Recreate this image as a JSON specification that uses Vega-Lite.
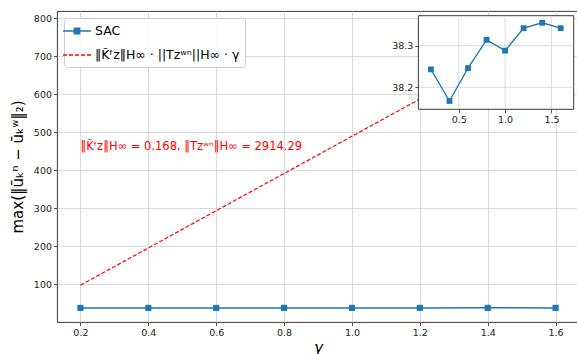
{
  "$schema": "https://vega.github.io/schema/vega-lite/v6.json",
  "width": 522,
  "height": 311,
  "autosize": {"type": "none"},
  "padding": {"left": 57, "top": 11, "right": 0, "bottom": 32},
  "config": {
    "font": "DejaVu Sans",
    "view": {"stroke": "#222", "strokeWidth": 0.9},
    "axis": {"domain": false, "grid": true, "gridColor": "#d6d6d6", "gridWidth": 0.9, "tickColor": "#222", "tickSize": 3.5, "tickWidth": 0.8, "labelFontSize": 9.5, "labelColor": "#222", "labelPadding": 2, "titleFontWeight": "normal", "titleColor": "#000"}
  },
  "datasets": {
    "main": [
      {"gamma": 0.2, "series": "SAC", "value": 38.243},
      {"gamma": 0.4, "series": "SAC", "value": 38.167},
      {"gamma": 0.6, "series": "SAC", "value": 38.246},
      {"gamma": 0.8, "series": "SAC", "value": 38.314},
      {"gamma": 1.0, "series": "SAC", "value": 38.288},
      {"gamma": 1.2, "series": "SAC", "value": 38.342},
      {"gamma": 1.4, "series": "SAC", "value": 38.355},
      {"gamma": 1.6, "series": "SAC", "value": 38.342},
      {"gamma": 0.2, "series": "‖K̃ᶠz‖H∞ · ||Tzʷⁿ||H∞ · γ", "value": 97.9},
      {"gamma": 0.4, "series": "‖K̃ᶠz‖H∞ · ||Tzʷⁿ||H∞ · γ", "value": 195.8},
      {"gamma": 0.6, "series": "‖K̃ᶠz‖H∞ · ||Tzʷⁿ||H∞ · γ", "value": 293.8},
      {"gamma": 0.8, "series": "‖K̃ᶠz‖H∞ · ||Tzʷⁿ||H∞ · γ", "value": 391.7},
      {"gamma": 1.0, "series": "‖K̃ᶠz‖H∞ · ||Tzʷⁿ||H∞ · γ", "value": 489.6},
      {"gamma": 1.2, "series": "‖K̃ᶠz‖H∞ · ||Tzʷⁿ||H∞ · γ", "value": 587.5},
      {"gamma": 1.4, "series": "‖K̃ᶠz‖H∞ · ||Tzʷⁿ||H∞ · γ", "value": 685.4},
      {"gamma": 1.6, "series": "‖K̃ᶠz‖H∞ · ||Tzʷⁿ||H∞ · γ", "value": 783.3}
    ]
  },
  "data": {"name": "main"},
  "layer": [
    {
      "encoding": {
        "x": {"field": "gamma", "type": "quantitative", "scale": {"domain": [0.131, 1.669], "nice": false, "zero": false}, "axis": {"values": [0.2, 0.4, 0.6, 0.8, 1.0, 1.2, 1.4, 1.6], "format": ".1f", "title": "γ", "titleFontStyle": "italic", "titleFontSize": 15, "titlePadding": 3}},
        "y": {"field": "value", "type": "quantitative", "scale": {"domain": [1.2, 819], "nice": false, "zero": false}, "axis": {"values": [100, 200, 300, 400, 500, 600, 700, 800], "title": "max(‖ūₖⁿ − ūₖʷ‖₂)", "titleFontSize": 15, "titlePadding": 8}},
        "color": {
          "field": "series", "type": "nominal",
          "scale": {"domain": ["SAC", "‖K̃ᶠz‖H∞ · ||Tzʷⁿ||H∞ · γ"], "range": ["#1f77b4", "#ff0000"]},
          "legend": {
            "title": null, "orient": "top-left", "offset": 7, "padding": 5,
            "fillColor": "rgba(255,255,255,0.85)", "strokeColor": "#cccccc", "cornerRadius": 3,
            "labelFontSize": 12.5, "labelColor": "#000", "labelOffset": 10, "rowPadding": 9,
            "symbolSize": 196, "symbolStrokeWidth": 1.5, "labelLimit": 300,
            "encode": {
              "symbols": {
                "update": {
                  "shape": {"signal": "datum.value === 'SAC' ? 'M-2,0H2M-0.38,-0.38H0.38V0.38H-0.38Z' : 'M-2,0H2'"},
                  "fill": {"signal": "datum.value === 'SAC' ? '#1f77b4' : 'transparent'"},
                  "stroke": {"signal": "datum.value === 'SAC' ? '#1f77b4' : '#ff0000'"},
                  "strokeDash": {"signal": "datum.value === 'SAC' ? [1, 0] : [4, 2]"},
                  "opacity": {"value": 1}
                }
              }
            }
          }
        }
      },
      "layer": [
        {"transform": [{"filter": "datum.series === 'SAC'"}], "mark": {"type": "line", "strokeWidth": 1.5}},
        {"transform": [{"filter": "datum.series === 'SAC'"}], "mark": {"type": "point", "shape": "square", "filled": true, "size": 38, "opacity": 1}},
        {"transform": [{"filter": "datum.series !== 'SAC'"}], "mark": {"type": "line", "strokeWidth": 1.2, "strokeDash": [4, 2]}},
        {
          "transform": [{"filter": "datum.series === 'SAC' && datum.gamma === 0.2"}],
          "mark": {"type": "text", "align": "left", "baseline": "middle", "fontSize": 11.5, "color": "#ff0000"},
          "encoding": {"x": {"datum": 0.2}, "y": {"datum": 462}, "text": {"value": "‖K̃ᶠz‖H∞ = 0.168, ‖Tzʷⁿ‖H∞ = 2914.29"}, "color": {"value": "#ff0000"}}
        }
      ]
    },
    {
      "transform": [{"filter": "datum.series === 'SAC'"}],
      "encoding": {
        "x": {"field": "gamma", "type": "quantitative", "scale": {"domain": [0.065, 1.74], "range": [361.4, 516.7], "nice": false, "zero": false}, "axis": {"orient": "bottom", "offset": -212.7, "values": [0.5, 1.0, 1.5], "format": ".1f", "title": null, "grid": false, "zindex": 1}},
        "y": {"field": "value", "type": "quantitative", "scale": {"domain": [38.147, 38.372], "range": [98.3, 4.7], "nice": false, "zero": false}, "axis": {"orient": "left", "offset": -361.4, "values": [38.2, 38.3], "format": ".1f", "title": null, "grid": false, "zindex": 1}}
      },
      "layer": [
        {
          "transform": [{"filter": "datum.gamma === 0.2"}],
          "mark": {"type": "rect", "fill": "white", "stroke": "#222", "strokeWidth": 0.9},
          "encoding": {"x": {"datum": 0.065}, "x2": {"datum": 1.74}, "y": {"datum": 38.147}, "y2": {"datum": 38.372}}
        },
        {
          "transform": [{"filter": "datum.gamma === 0.2"}],
          "mark": {"type": "rule", "color": "#d6d6d6", "strokeWidth": 0.9},
          "encoding": {"x": {"datum": 0.5}, "y": {"datum": 38.149}, "y2": {"datum": 38.370}}
        },
        {
          "transform": [{"filter": "datum.gamma === 0.2"}],
          "mark": {"type": "rule", "color": "#d6d6d6", "strokeWidth": 0.9},
          "encoding": {"x": {"datum": 1.0}, "y": {"datum": 38.149}, "y2": {"datum": 38.370}}
        },
        {
          "transform": [{"filter": "datum.gamma === 0.2"}],
          "mark": {"type": "rule", "color": "#d6d6d6", "strokeWidth": 0.9},
          "encoding": {"x": {"datum": 1.5}, "y": {"datum": 38.149}, "y2": {"datum": 38.370}}
        },
        {
          "transform": [{"filter": "datum.gamma === 0.2"}],
          "mark": {"type": "rule", "color": "#d6d6d6", "strokeWidth": 0.9},
          "encoding": {"y": {"datum": 38.2}, "x": {"datum": 0.07}, "x2": {"datum": 1.735}}
        },
        {
          "transform": [{"filter": "datum.gamma === 0.2"}],
          "mark": {"type": "rule", "color": "#d6d6d6", "strokeWidth": 0.9},
          "encoding": {"y": {"datum": 38.3}, "x": {"datum": 0.07}, "x2": {"datum": 1.735}}
        },
        {"mark": {"type": "line", "color": "#1f77b4", "strokeWidth": 1.3}},
        {"mark": {"type": "point", "shape": "square", "filled": true, "size": 34, "color": "#1f77b4", "opacity": 1}}
      ]
    }
  ],
  "resolve": {"scale": {"x": "independent", "y": "independent"}, "axis": {"x": "independent", "y": "independent"}}
}
